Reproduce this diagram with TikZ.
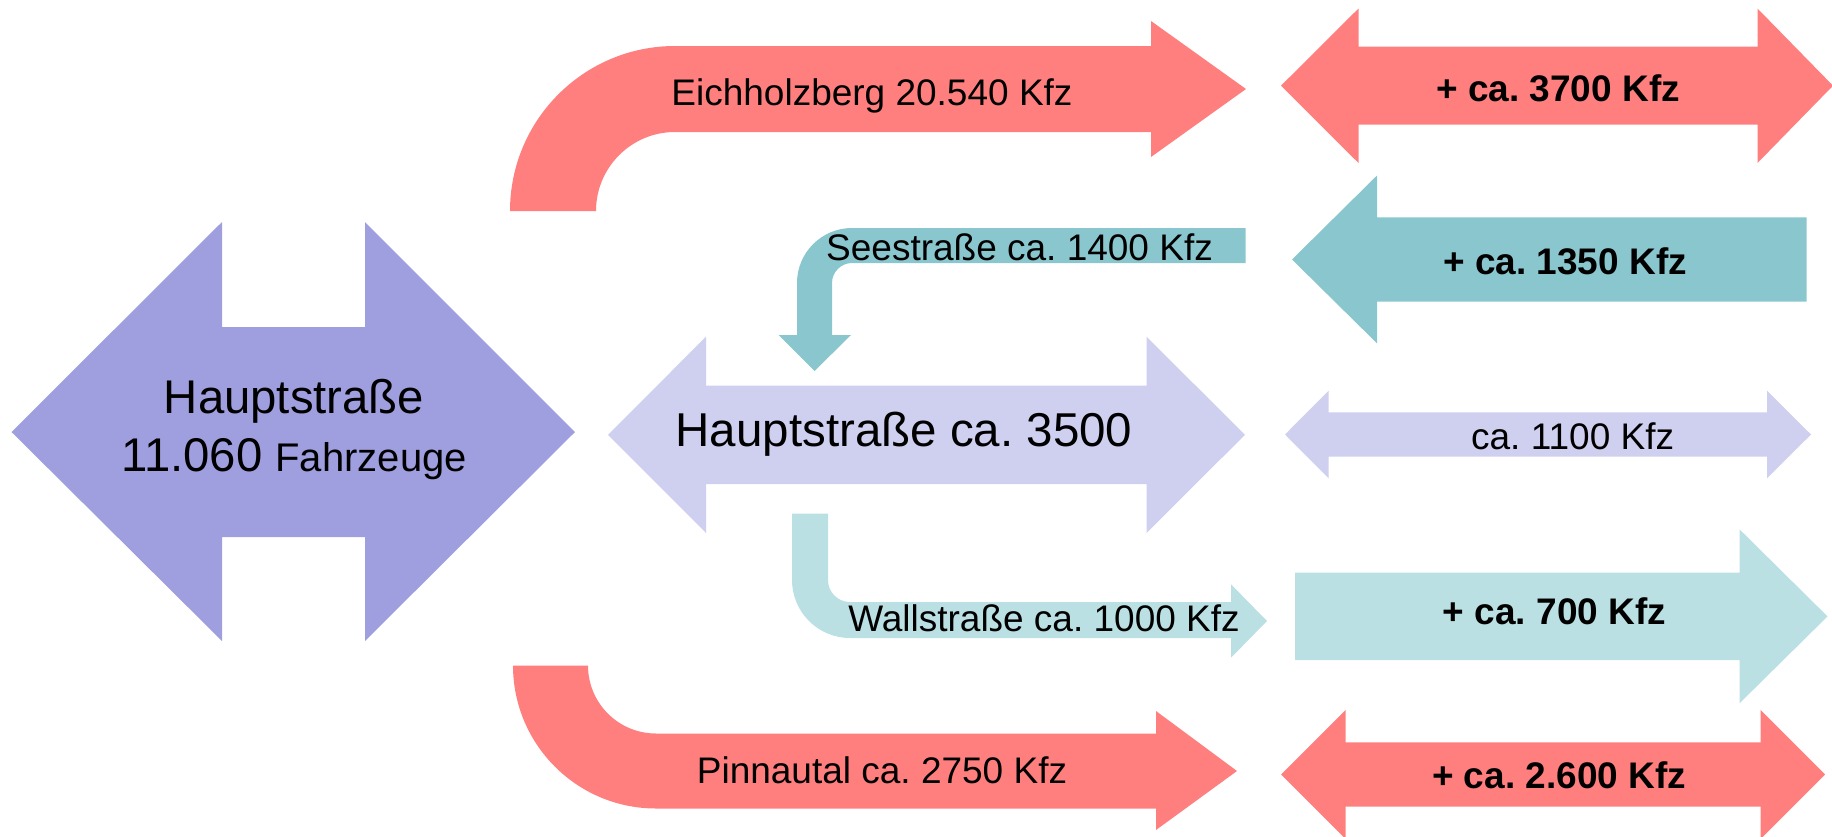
\documentclass[tikz,border=0pt]{standalone}
\usepackage{fontspec}
\setmainfont{Liberation Sans}
\frenchspacing
\definecolor{redA}{RGB}{255,127,127}
\definecolor{purpA}{RGB}{159,159,223}
\definecolor{lavA}{RGB}{207,207,239}
\definecolor{tealA}{RGB}{138,198,206}
\definecolor{tealB}{RGB}{186,224,227}
\begin{document}
\begin{tikzpicture}[x=1pt,y=-1pt,
  lbl/.style={anchor=base,inner sep=0pt,font=\fontsize{37}{44}\selectfont},
  blbl/.style={anchor=base,inner sep=0pt,font=\fontsize{37}{44}\selectfont\bfseries},
  redshape/.style={fill=redA,draw=none},
  purpshape/.style={fill=purpA,draw=none},
  lavshape/.style={fill=lavA,draw=none},
  tealshape/.style={fill=tealA,draw=none},
  ltealshape/.style={fill=tealB,draw=none}]
\useasboundingbox (0,0) rectangle (1832,836);

% big purple double arrow
\path[purpshape] (11.5,432) -- (222,222) -- (222,327) -- (365,327) -- (365,222) -- (575,432)
  -- (365,641) -- (365,537) -- (222,537) -- (222,641) -- cycle;
\node[anchor=base,inner sep=0pt,font=\fontsize{47.3}{56}\selectfont] (hs1) at (294,413) {Hauptstraße};
\node[anchor=base,inner sep=0pt,font=\fontsize{47.3}{56}\selectfont] (hs2) at (294,471.7) {11.060 {\fontsize{40}{48}\selectfont Fahrzeuge}};

% Eichholzberg curved arrow
\path[redshape] (510,211) .. controls (510,119.9) and (583.9,46) .. (675,46) -- (1151,46) -- (1151,21)
  -- (1246,89) -- (1151,157) -- (1151,132) -- (675,132) .. controls (631.4,132) and (596,167.4) .. (596,211) -- cycle;
\node[lbl] (eich) at (872,105) {Eichholzberg 20.540 Kfz};

% top right red double arrow
\path[redshape] (1281,85.7) -- (1358.5,8.5) -- (1358.5,46.7) -- (1757.5,46.7) -- (1757.5,8.5) -- (1833,85.7)
  -- (1757.5,163) -- (1757.5,124.5) -- (1358.5,124.5) -- (1358.5,163) -- cycle;
\node[blbl] (r1) at (1558,101) {+ ca. 3700 Kfz};

% teal left arrow
\path[tealshape] (1292,259.5) -- (1377,175.5) -- (1377,217.3) -- (1806.5,217.3) -- (1806.5,301.7)
  -- (1377,301.7) -- (1377,343.3) -- cycle;
\node[blbl] (t1) at (1565,274) {+ ca. 1350 Kfz};

% Seestrasse arrow
\path[tealshape] (1245.5,228) -- (852,228) .. controls (821.6,228) and (797,252.6) .. (797,283) -- (797,335)
  -- (778.5,335) -- (814.5,371) -- (851,335) -- (832,335) -- (832,283)
  .. controls (832,272) and (841,263) .. (852,263) -- (1245.5,263) -- cycle;
\node[lbl] (see) at (1019.5,260) {Seestraße ca. 1400 Kfz};

% middle lavender double arrow
\path[lavshape] (608,434.8) -- (706,336.7) -- (706,385.7) -- (1146.5,385.7) -- (1146.5,336.7) -- (1245,434.8)
  -- (1146.5,533) -- (1146.5,484) -- (706,484) -- (706,533) -- cycle;
\node[anchor=base,inner sep=0pt,font=\fontsize{47.5}{56}\selectfont] (hs3) at (904,446.7) {Hauptstraße ca. 3500};

% small lavender double arrow
\path[lavshape] (1285,434.5) -- (1328.6,390.7) -- (1328.6,412.3) -- (1767,412.3) -- (1767,390.7) -- (1811,434.5)
  -- (1767,478.3) -- (1767,456.7) -- (1328.6,456.7) -- (1328.6,478.3) -- cycle;
\node[lbl] (l2) at (1572.6,449.3) {ca. 1100 Kfz};

% Wallstrasse arrow
\path[ltealshape] (792,513.5) -- (792,580) .. controls (792,612) and (818,638) .. (850,638) -- (1231,638)
  -- (1231,657.7) -- (1267,621) -- (1231,584.3) -- (1231,602) -- (850,602)
  .. controls (837.8,602) and (828,592.2) .. (828,580) -- (828,513.5) -- cycle;
\node[lbl] (wall) at (1044,631.7) {Wallstraße ca. 1000 Kfz};

% light teal right arrow
\path[ltealshape] (1295,572.7) -- (1739.5,572.7) -- (1739.5,529.3) -- (1827.5,616.4) -- (1739.5,703.3)
  -- (1739.5,660) -- (1295,660) -- cycle;
\node[blbl] (t2) at (1554.5,624) {+ ca. 700 Kfz};

% Pinnautal arrow
\path[redshape] (513,665.5) .. controls (513,744.5) and (577,808.5) .. (656,808.5) -- (1156,808.5)
  -- (1156,830) -- (1237,771) -- (1156,711) -- (1156,733.5) -- (656,733.5)
  .. controls (618.4,733.5) and (588,703.1) .. (588,665.5) -- cycle;
\node[lbl] (pinn) at (882,783.3) {Pinnautal ca. 2750 Kfz};

% bottom right red double arrow
\path[redshape] (1281,774.5) -- (1345.5,710) -- (1345.5,742.3) -- (1760.5,742.3) -- (1760.5,710) -- (1825,774.5)
  -- (1760.5,839) -- (1760.5,806.7) -- (1345.5,806.7) -- (1345.5,839) -- cycle;
\node[blbl] (r2) at (1559,788.3) {+ ca. 2.600 Kfz};
\end{tikzpicture}
\end{document}
